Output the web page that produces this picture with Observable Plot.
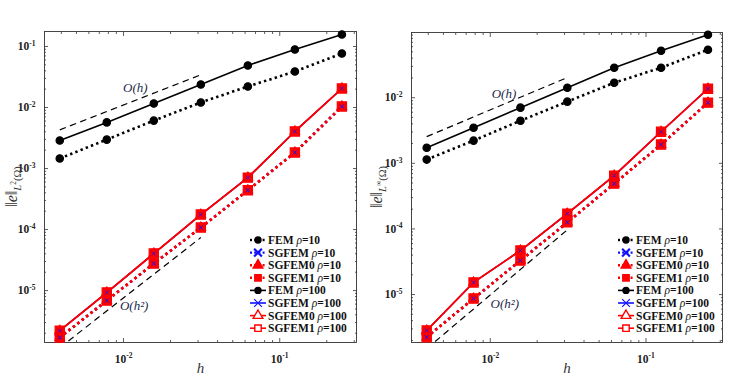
<!DOCTYPE html>
<html><head><meta charset="utf-8">
<script src="https://cdn.jsdelivr.net/npm/d3@7"></script>
<script src="https://cdn.jsdelivr.net/npm/@observablehq/plot@0.6"></script>
<style>
body{margin:0;background:#fff;}
#wrap{position:relative;width:731px;height:383px;overflow:hidden;}
#wrap svg{position:absolute;top:0;}
</style>
</head><body><div id="wrap"></div>
<script>
// ---------- data ----------
const hVals = [1/256, 1/128, 1/64, 1/32, 1/16, 1/8, 1/4];
const xDomain = [0.00312, 0.31];
const xMajorTicks = [1e-2, 1e-1];

// L2 norm panel
const l2_fem_rho10    = [1.46e-3, 2.98e-3, 6.1e-3, 1.21e-2, 2.21e-2, 3.89e-2, 7.67e-2];
const l2_sgfem_rho10  = [1.7e-6, 6.86e-6, 2.77e-5, 1.08e-4, 4.4e-4, 1.83e-3, 1.04e-2];
const l2_sgfem0_rho10 = [1.7e-6, 6.86e-6, 2.77e-5, 1.08e-4, 4.4e-4, 1.83e-3, 1.04e-2];
const l2_sgfem1_rho10 = [1.7e-6, 6.86e-6, 2.77e-5, 1.08e-4, 4.4e-4, 1.83e-3, 1.04e-2];
const l2_fem_rho100    = [2.88e-3, 5.7e-3, 1.16e-2, 2.38e-2, 4.89e-2, 8.93e-2, 0.157];
const l2_sgfem_rho100  = [2.2e-6, 9.3e-6, 4.05e-5, 1.76e-4, 7.1e-4, 4.05e-3, 2.05e-2];
const l2_sgfem0_rho100 = [2.2e-6, 9.3e-6, 4.05e-5, 1.76e-4, 7.1e-4, 4.05e-3, 2.05e-2];
const l2_sgfem1_rho100 = [2.2e-6, 9.3e-6, 4.05e-5, 1.76e-4, 7.1e-4, 4.05e-3, 2.05e-2];
const l2_yDomain = [1.41e-6, 0.176];
const l2_yTicks = [1e-5, 1e-4, 1e-3, 1e-2, 1e-1];
const l2_refH = [1/256, 1/32];
const l2_orderH  = [4.3e-3, 3.44e-2];
const l2_orderH2 = [1.16e-6, 7.4e-5];
const l2_noteH  = [0.0119, 0.0213];   // label position O(h)
const l2_noteH2 = [0.0117, 5.7e-6];   // label position O(h^2)

// L-infinity norm panel
const li_fem_rho10    = [1.14e-3, 2.22e-3, 4.46e-3, 8.7e-3, 1.69e-2, 2.86e-2, 5.38e-2];
const li_sgfem_rho10  = [2.24e-6, 8.7e-6, 3.3e-5, 1.26e-4, 4.9e-4, 1.93e-3, 8.4e-3];
const li_sgfem0_rho10 = [2.24e-6, 8.7e-6, 3.3e-5, 1.26e-4, 4.9e-4, 1.93e-3, 8.4e-3];
const li_sgfem1_rho10 = [2.24e-6, 8.7e-6, 3.3e-5, 1.26e-4, 4.9e-4, 1.93e-3, 8.4e-3];
const li_fem_rho100    = [1.73e-3, 3.49e-3, 7.05e-3, 1.42e-2, 2.86e-2, 5.19e-2, 9.1e-2];
const li_sgfem_rho100  = [2.83e-6, 1.53e-5, 4.69e-5, 1.71e-4, 6.5e-4, 3.03e-3, 1.37e-2];
const li_sgfem0_rho100 = [2.83e-6, 1.53e-5, 4.69e-5, 1.71e-4, 6.5e-4, 3.03e-3, 1.37e-2];
const li_sgfem1_rho100 = [2.83e-6, 1.53e-5, 4.69e-5, 1.71e-4, 6.5e-4, 3.03e-3, 1.37e-2];
const li_yDomain = [1.86e-6, 0.0985];
const li_yTicks = [1e-5, 1e-4, 1e-3, 1e-2];
const li_refH = [1/256, 1/32];
const li_orderH  = [2.55e-3, 2.03e-2];
const li_orderH2 = [1.5e-6, 9.7e-5];
const li_noteH  = [0.01225, 0.0115];
const li_noteH2 = [0.0124, 7.3e-6];

const seriesNames = ["FEM", "SGFEM", "SGFEM0", "SGFEM1"];
const rhoValues = [10, 100];

// ---------- styles ----------
const kindStyle = {
  FEM:    {color: "#000000", symbol: "circle",   r: 3.7, lr: 3.0, sym: d3.symbolCircle},
  SGFEM:  {color: "#1010ff", symbol: "times",    r: 2.0, lr: 3.6, sym: d3.symbolTimes},
  SGFEM0: {color: "#ff0000", symbol: "triangle", r: 3.8, lr: 3.6, sym: d3.symbolTriangle},
  SGFEM1: {color: "#ff0000", symbol: "square",   r: 5.2, lr: 3.6, sym: d3.symbolSquare}
};
const H = 383;
const noteColor = "#1b2a4a";

function minorTicks(domain) {
  const out = [];
  for (let d = -7; d <= 0; d++) for (let k = 2; k <= 9; k++) {
    const v = k * Math.pow(10, d);
    if (v > domain[0] && v < domain[1]) out.push(v);
  }
  return out;
}

function drawPanel(p) {
  const rows = (vals) => hVals.map((h, i) => ({h, e: vals[i]}));
  const tk = {stroke: "#333", strokeWidth: 0.8};
  const xMinor = minorTicks(xDomain), yMinor = minorTicks(p.yDomain);
  const marks = [
    Plot.axisX(xMajorTicks, {anchor: "bottom", tickSize: -4, fill: "none", ...tk}),
    Plot.axisX(xMinor, {anchor: "bottom", tickSize: -2, fill: "none", ...tk}),
    Plot.axisX(xMajorTicks, {anchor: "top", tickSize: -4, fill: "none", ...tk}),
    Plot.axisX(xMinor, {anchor: "top", tickSize: -2, fill: "none", ...tk}),
    Plot.axisY(p.yTicks, {anchor: "left", tickSize: -4, fill: "none", ...tk}),
    Plot.axisY(yMinor, {anchor: "left", tickSize: -2, fill: "none", ...tk}),
    Plot.axisY(p.yTicks, {anchor: "right", tickSize: -4, fill: "none", ...tk}),
    Plot.axisY(yMinor, {anchor: "right", tickSize: -2, fill: "none", ...tk}),
    Plot.axisX(xMajorTicks, {anchor: "bottom", tickSize: 0, tickPadding: 12, stroke: "none", label: null,
      tickFormat: d => String(Math.round(Math.log10(d)))}),
    Plot.axisY(p.yTicks, {anchor: "left", tickSize: 0, tickPadding: 9, stroke: "none", label: null,
      tickFormat: d => String(Math.round(Math.log10(d)))}),
    Plot.frame({stroke: "#333", strokeWidth: 0.9}),
    Plot.line(p.refH.map((h, i) => ({h, e: p.orderH[i]})), {x: "h", y: "e", stroke: "#000", strokeWidth: 1.2, strokeDasharray: "6.5 4.5", strokeLinecap: "butt", clip: true}),
    Plot.line(p.refH.map((h, i) => ({h, e: p.orderH2[i]})), {x: "h", y: "e", stroke: "#000", strokeWidth: 1.2, strokeDasharray: "6.5 4.5", strokeLinecap: "butt", clip: true})
  ];
  for (const s of p.series) {
    const st = kindStyle[s.kind];
    const dotted = s.rho === 10;
    marks.push(Plot.line(rows(s.values), {x: "h", y: "e", stroke: st.color,
      strokeWidth: dotted ? 2.6 : 1.6, strokeDasharray: dotted ? "2.4 3.2" : null,
      strokeLinecap: "butt", clip: true}));
  }
  // markers: FEM circles, then squares, triangles, crosses on top
  const order = ["FEM", "SGFEM1", "SGFEM0", "SGFEM"];
  for (const kind of order) for (const s of p.series.filter(d => d.kind === kind)) {
    const st = kindStyle[s.kind];
    const opts = {x: "h", y: "e", symbol: st.symbol, r: st.r, stroke: st.color};
    if (kind === "SGFEM") { opts.strokeWidth = s.rho === 10 ? 1 : 0.8; }
    else if (kind === "SGFEM0") { opts.fill = st.color; opts.strokeWidth = 1; }
    else { opts.fill = st.color; opts.strokeWidth = 1.2; }
    marks.push(Plot.dot(rows(s.values), opts));
  }
  marks.push(
    Plot.text([p.noteH], {x: d => d[0], y: d => d[1], text: () => "O(h)", fontStyle: "italic", fontSize: 13, fill: noteColor}),
    Plot.text([p.noteH2], {x: d => d[0], y: d => d[1], text: () => "O(h²)", fontStyle: "italic", fontSize: 13, fill: noteColor}),
    Plot.text(["h"], {frameAnchor: "bottom", dy: 30, text: d => d, fontStyle: "italic", fontSize: 15, fill: "#333"})
  );

  const svg = Plot.plot({
    width: p.width, height: H,
    marginLeft: p.ml, marginRight: p.mr, marginTop: p.mt, marginBottom: p.mb,
    x: {type: "log", domain: xDomain},
    y: {type: "log", domain: p.yDomain},
    style: {fontFamily: "Liberation Serif", fontSize: "10px", color: "#222", background: "transparent"},
    marks
  });
  const S = d3.select(svg);
  // superscript exponents on tick labels
  S.selectAll('g[aria-label="x-axis tick label"] text, g[aria-label="y-axis tick label"] text').each(function() {
    const t = d3.select(this);
    const e = t.text();
    t.text("").attr("font-weight", "bold").attr("font-size", 11.5).attr("fill", "#222");
    t.append("tspan").text("10");
    t.append("tspan").attr("dy", -4.5).attr("font-size", 7.5).text(e);
  });
  // y axis label
  const cy = (p.mt + (H - p.mb)) / 2;
  const yl = S.append("text").attr("transform", `translate(17,${cy}) rotate(-90)`)
    .attr("text-anchor", "middle").attr("font-family", "Liberation Serif").attr("fill", "#333");
  yl.append("tspan").attr("font-size", 16).text("‖");
  yl.append("tspan").attr("font-size", 16).attr("font-style", "italic").text("e");
  yl.append("tspan").attr("font-size", 16).text("‖");
  yl.append("tspan").attr("font-size", 10.5).attr("font-style", "italic").attr("dy", 3.5).text("L");
  yl.append("tspan").attr("font-size", 7.5).attr("dy", -4.5).text(p.normSup);
  yl.append("tspan").attr("font-size", 10.5).attr("dy", 4.5).text("(Ω)");

  // legend
  const frameR = p.width - p.mr, frameB = H - p.mb;
  const lx = frameR - p.legendOffset, ly = frameB - 102, step = 12.6;
  const lg = S.append("g").attr("font-family", "Liberation Serif").attr("font-size", 11.5)
    .attr("fill", "#111").attr("text-anchor", "start");
  const items = [];
  for (const rho of rhoValues) for (const kind of seriesNames) items.push({kind, rho});
  items.forEach((it, i) => {
    const y = ly + i * step;
    const st = kindStyle[it.kind];
    const dotted = it.rho === 10;
    lg.append("line").attr("x1", lx).attr("x2", lx + 16).attr("y1", y).attr("y2", y)
      .attr("stroke", st.color).attr("stroke-width", dotted ? 2.4 : 1.6)
      .attr("stroke-dasharray", dotted ? "2 2.2" : null);
    const filled = it.rho === 10 || it.kind === "FEM";
    const size = Math.PI * st.lr * st.lr;
    const m = lg.append("path").attr("transform", `translate(${lx + 8},${y})`)
      .attr("d", d3.symbol(st.sym, size)());
    if (it.kind === "SGFEM") m.attr("fill", "none").attr("stroke", st.color).attr("stroke-width", dotted ? 2.2 : 1.2);
    else m.attr("fill", filled ? st.color : "#fff").attr("stroke", st.color).attr("stroke-width", 1.4);
    const t = lg.append("text").attr("x", lx + 18).attr("y", y + 4);
    t.append("tspan").attr("font-weight", "bold").text(it.kind + " ");
    t.append("tspan").attr("font-style", "italic").text("ρ");
    t.append("tspan").attr("font-weight", "bold").text("=" + it.rho);
  });
  svg.style.left = p.left + "px";
  return svg;
}

function seriesFor(prefix) {
  const tbl = {
    l2: {FEM: [l2_fem_rho10, l2_fem_rho100], SGFEM: [l2_sgfem_rho10, l2_sgfem_rho100],
         SGFEM0: [l2_sgfem0_rho10, l2_sgfem0_rho100], SGFEM1: [l2_sgfem1_rho10, l2_sgfem1_rho100]},
    li: {FEM: [li_fem_rho10, li_fem_rho100], SGFEM: [li_sgfem_rho10, li_sgfem_rho100],
         SGFEM0: [li_sgfem0_rho10, li_sgfem0_rho100], SGFEM1: [li_sgfem1_rho10, li_sgfem1_rho100]}
  }[prefix];
  const out = [];
  rhoValues.forEach((rho, j) => seriesNames.forEach(kind => out.push({kind, rho, values: tbl[kind][j]})));
  return out;
}

const wrap = document.getElementById("wrap");
wrap.appendChild(drawPanel({
  left: 0, width: 365, ml: 44, mr: 9, mt: 31, mb: 41,
  yDomain: l2_yDomain, yTicks: l2_yTicks, refH: l2_refH, orderH: l2_orderH, orderH2: l2_orderH2,
  noteH: l2_noteH, noteH2: l2_noteH2, normSup: "2", legendOffset: 106,
  series: seriesFor("l2")
}));
wrap.appendChild(drawPanel({
  left: 365, width: 366, ml: 46, mr: 9, mt: 32, mb: 41,
  yDomain: li_yDomain, yTicks: li_yTicks, refH: li_refH, orderH: li_orderH, orderH2: li_orderH2,
  noteH: li_noteH, noteH2: li_noteH2, normSup: "∞", legendOffset: 104,
  series: seriesFor("li")
}));
</script>
</body></html>
